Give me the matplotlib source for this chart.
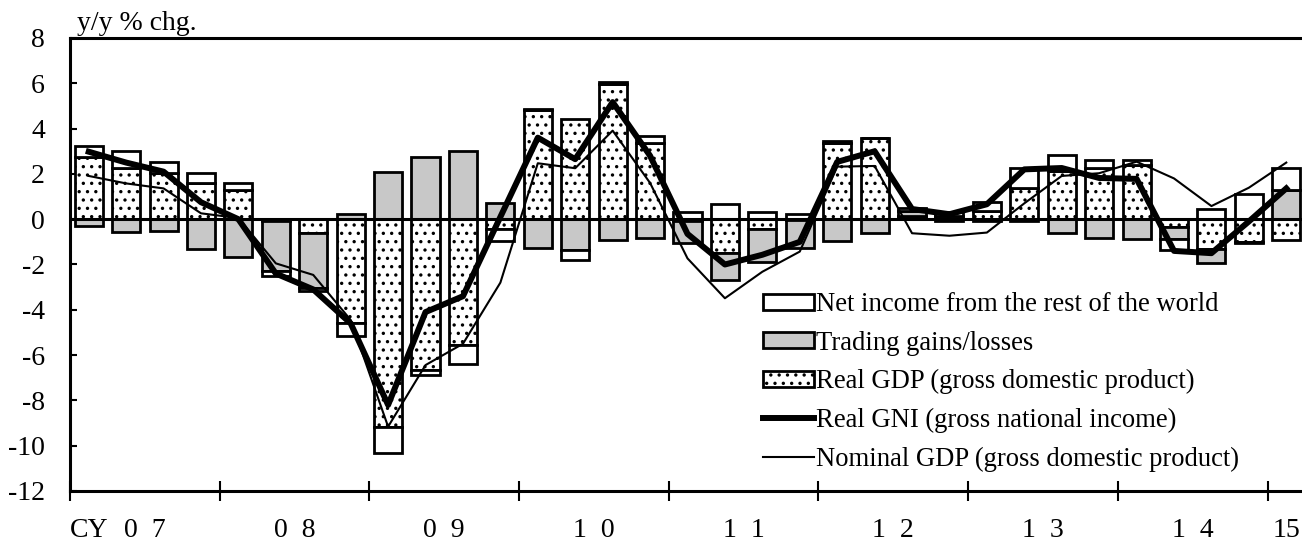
import numpy as np
import matplotlib.pyplot as plt

plt.rcParams['font.family'] = ['Liberation Serif', 'DejaVu Serif']
plt.rcParams['hatch.linewidth'] = 1.2
plt.rcParams['axes.unicode_minus'] = False

# quarterly, CY2007 Q1 .. CY2015 Q1, y/y % chg.
quarters = np.arange(33)
real_gdp = [2.75, 2.25, 2.03, 1.61, 1.29, -0.10, -0.62, -4.60, -9.16, -6.66, -5.55,
            -0.45, 4.82, 4.41, 5.95, 3.35, -0.10, -1.48, -0.45, -0.05, 3.35, 3.57,
            0.15, -0.10, 0.38, 1.36, 2.15, 2.25, 2.40, -0.36, -1.33, -1.00, -0.92]
trading = [-0.30, -0.55, -0.50, -1.33, -1.68, -2.20, -2.43, 0.23, 2.07, 2.76, 3.02,
           0.73, -1.29, -1.36, -0.92, -0.82, -0.93, -1.20, -1.43, -1.21, -0.96, -0.60,
           0.20, 0.15, -0.08, -0.08, -0.60, -0.84, -0.87, -0.50, -0.59, -0.05, 1.29]
net_income = [0.50, 0.77, 0.51, 0.42, 0.29, -0.20, -0.10, -0.55, -1.18, -0.22, -0.86,
              -0.50, 0.05, -0.44, 0.12, 0.32, 0.30, 0.67, 0.33, 0.25, 0.12, 0.02,
              0.13, 0.15, 0.38, 0.91, 0.68, 0.36, 0.22, -0.50, 0.45, 1.10, 0.98]
real_gni = [2.98, 2.50, 2.10, 0.75, 0.00, -2.40, -3.10, -4.60, -8.20, -4.10, -3.40,
            0.10, 3.60, 2.65, 5.17, 2.80, -0.65, -2.00, -1.57, -1.00, 2.53, 3.00,
            0.45, 0.22, 0.66, 2.20, 2.26, 1.82, 1.78, -1.40, -1.50, -0.10, 1.36]
nominal_gdp = [1.91, 1.58, 1.36, 0.26, 0.05, -1.95, -2.46, -4.45, -9.16, -6.44, -5.50,
               -2.80, 2.47, 2.25, 3.91, 1.60, -1.73, -3.49, -2.32, -1.43, 2.32, 2.35,
               -0.62, -0.73, -0.59, 0.70, 1.91, 2.03, 2.54, 1.80, 0.58, 1.39, 2.50]

year_labels = ['0  7', '0  8', '0  9', '1  0', '1  1', '1  2', '1  3', '1  4', '15']
year_pos = [1.5, 5.5, 9.5, 13.5, 17.5, 21.5, 25.5, 29.5, 32]

fig = plt.figure(figsize=(13.02, 5.43), dpi=100)
ax = fig.add_axes([70 / 1302, 52 / 543, 1232 / 1302, 453 / 543])

# stacked bars: positives stack up, negatives stack down (like Excel)
series = [
    (real_gdp, 'white', '..', 'Real GDP (gross domestic product)'),
    (trading, '#c8c8c8', None, 'Trading gains/losses'),
    (net_income, 'white', None, 'Net income from the rest of the world'),
]
pos = np.zeros(len(quarters))
neg = np.zeros(len(quarters))
bar_handles = []
for vals, fc, hatch, label in series:
    v = np.array(vals)
    bottom = np.where(v >= 0, pos, neg)
    b = ax.bar(quarters, v, 0.75, bottom=bottom, facecolor=fc, edgecolor='black',
               linewidth=2, hatch=hatch, label=label, zorder=2)
    bar_handles.append(b)
    pos += np.clip(v, 0, None)
    neg += np.clip(v, None, 0)

ax.axhline(0, color='black', lw=2.2, zorder=3)
l1, = ax.plot(quarters, real_gni, color='black', lw=4.3, zorder=4,
              label='Real GNI (gross national income)')
l2, = ax.plot(quarters, nominal_gdp, color='black', lw=1.5, zorder=4,
              label='Nominal GDP (gross domestic product)')

ax.set_xlim(-0.5, 32.42)
ax.set_ylim(-12, 8)
ax.set_yticks(range(-12, 9, 2))
ax.tick_params(axis='y', direction='in', length=5, width=1.5, pad=18, labelsize=20)
ax.set_xticks(np.arange(-0.5, 33, 4))
ax.set_xticklabels([])
ax.tick_params(axis='x', direction='inout', length=14, width=1.5)

for x, lab in zip(year_pos, year_labels):
    ax.text(x, -0.1015, lab, transform=ax.get_xaxis_transform(), ha='center',
            va='baseline', fontsize=20)
ax.text(-0.5, -0.1015, 'CY', transform=ax.get_xaxis_transform(), ha='left',
        va='baseline', fontsize=20)

for s in ['left', 'bottom', 'top']:
    ax.spines[s].set_linewidth(2.2)
ax.spines['right'].set_visible(False)

fig.text(77 / 1302, 1 - 36 / 543, 'y/y % chg.', fontsize=20, ha='left', va='bottom')

handles = [bar_handles[2], bar_handles[1], bar_handles[0], l1, l2]
ax.legend(handles, [h.get_label() for h in handles], loc='upper left',
          bbox_to_anchor=(763 / 1302, 1 - 292 / 543), bbox_transform=fig.transFigure,
          frameon=False, borderpad=0, borderaxespad=0, handlelength=1.9,
          handleheight=0.55, handletextpad=0.1, labelspacing=0.51, fontsize=19.2)

fig.savefig('out.png', dpi=100)
